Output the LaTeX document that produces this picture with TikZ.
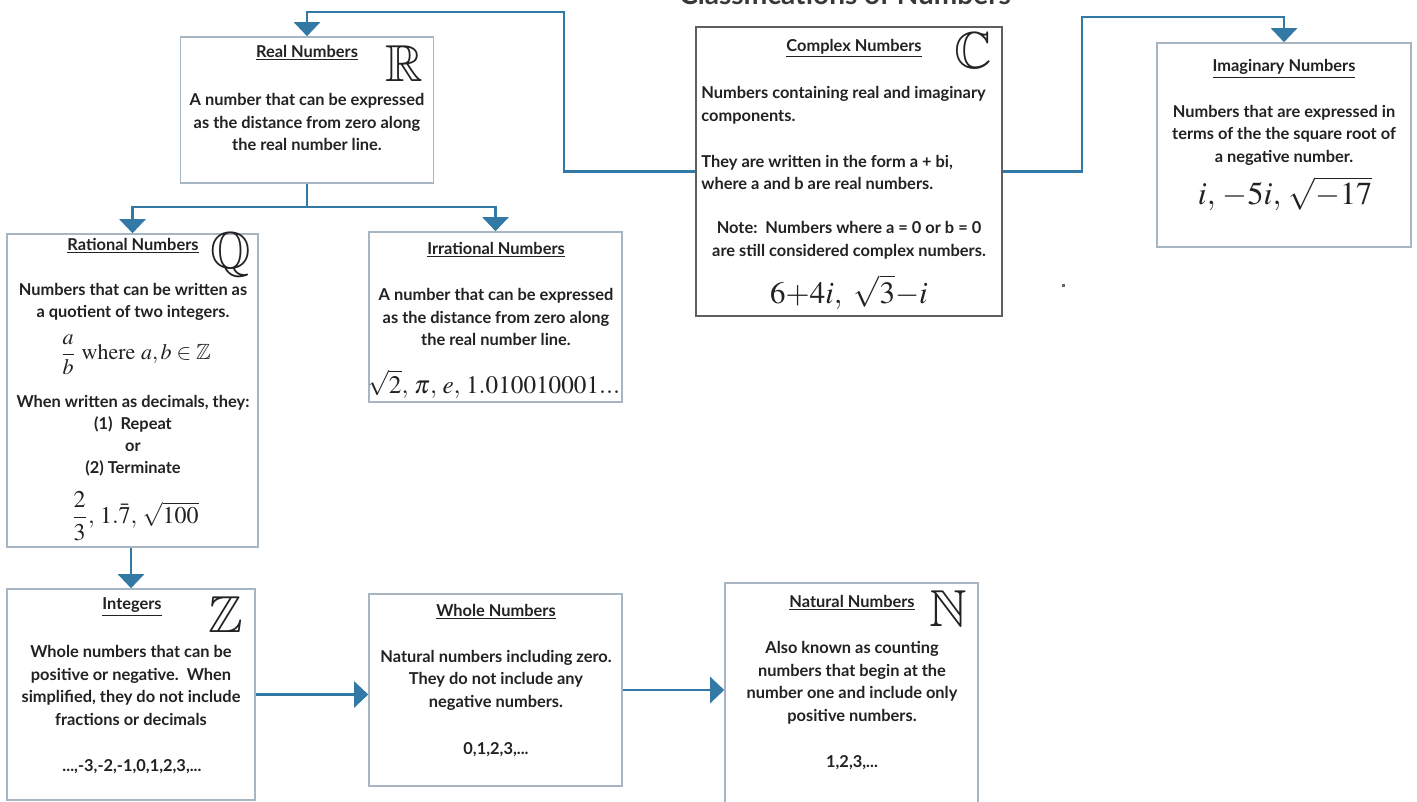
\documentclass[tikz,border=0pt]{standalone}
\usepackage{mathptmx}
\usepackage{amsmath}
\usepackage{amssymb}
\usepackage[no-math]{fontspec}
\setmainfont{Lato}
\usetikzlibrary{arrows.meta}
\definecolor{conn}{RGB}{50,121,165}
\definecolor{bxl}{RGB}{168,182,196}
\definecolor{bxd}{RGB}{95,95,95}
\definecolor{txt}{RGB}{34,34,34}
\tikzset{
  box/.style={draw=bxl, line width=0.8pt, fill=white, inner sep=0pt},
  tx/.style={font=\fontsize{8.2}{11.25}\selectfont\bfseries, text=txt, inner sep=0pt, align=center},
  txl/.style={tx, align=left, anchor=west},
  mt/.style={inner sep=0pt, text=txt, font=\fontsize{#1}{#1}\selectfont},
  bb/.style={inner sep=0pt, text=txt, font=\fontsize{26}{26}\selectfont},
  line/.style={draw=conn, line width=1.2pt},
  conn/.style={line, -{Triangle[width=13pt,length=7pt]}},
}
\begin{document}
\begin{tikzpicture}[x=0.5pt,y=-0.5pt]
\useasboundingbox (0,0) rectangle (1417,802);
\clip (0,0) rectangle (1417,802);
\fill[white] (0,0) rectangle (1417,802);

% title (cut off at the top)
\node[anchor=base, inner sep=0pt, text=txt!90!white, font=\fontsize{14}{16}\selectfont\bfseries] (title) at (845,5) {Classifications of Numbers};

% boxes
\node[box, minimum width=126.5pt, minimum height=73pt] (re) at (307,110) {};
\node[box, draw=bxd, minimum width=153pt, minimum height=144.5pt] (cx) at (849,171.5) {};
\node[box, minimum width=127pt, minimum height=102pt] (im) at (1284,145) {};
\node[box, minimum width=125.5pt, minimum height=156.5pt] (ra) at (132.5,390.5) {};
\node[box, minimum width=126.5pt, minimum height=85pt] (ir) at (495.5,317) {};
\node[box, minimum width=124pt, minimum height=105.5pt] (in) at (131,694.5) {};
\node[box, minimum width=126.5pt, minimum height=96pt] (wh) at (495.5,690) {};
\node[box, minimum width=126.5pt, minimum height=111.5pt] (na) at (851.5,694.5) {};

% Real numbers
\node[tx] (reh) at (307,53) {\underline{Real Numbers}};
\node[bb] (reb) at (404,64) {$\mathbb{R}$};
\node[tx] (ret) at (307,122) {A number that can be expressed\\as the distance from zero along\\the real number line.};

% Complex numbers
\node[tx] (cxh) at (854,48) {\underline{Complex Numbers}};
\node[bb] (cxb) at (973,51) {$\mathbb{C}$};
\node[txl] (cxt1) at (701,105.5) {Numbers containing real and imaginary\\components.};
\node[txl] (cxt2) at (701,172.5) {They are written in the form a + bi,\\where a and b are real numbers.};
\node[tx] (cxt3) at (849,240.5) {Note:\ \ Numbers where a = 0 or b = 0\\are still considered complex numbers.};
\node[mt=15.5] (cxm) at (849,292) {$6{+}4i,\ \sqrt{3}{-}i$};

% Imaginary numbers
\node[tx] (imh) at (1284,69) {\underline{Imaginary Numbers}};
\node[tx] (imt) at (1284,135) {Numbers that are expressed in\\terms of the the square root of\\a negative number.};
\node[mt=16] (imm) at (1285,194) {$i,\,-5i,\,\sqrt{-17}$};

% Rational numbers
\node[tx] (rah) at (133,246) {\underline{Rational Numbers}};
\node[bb] (rab) at (231,255) {$\mathbb{Q}$};
\node[tx] (rat) at (133,302) {Numbers that can be written as\\a quotient of two integers.};
\node[mt=11] (ram1) at (135.5,355) {$\dfrac{a}{b}\ \mathrm{where}\ a,b\in\mathbb{Z}$};
\node[tx, font=\fontsize{8.2}{11}\selectfont\bfseries] (rat2) at (133,436) {When written as decimals, they:\\(1)\ \ Repeat\\or\\(2) Terminate};
\node[mt=12] (ram2) at (135,516) {$\dfrac{2}{3},\,1.\bar{7},\,\sqrt{100}$};

% Irrational numbers
\node[tx] (irh) at (496,250) {\underline{Irrational Numbers}};
\node[tx] (irt) at (496,317) {A number that can be expressed\\as the distance from zero along\\the real number line.};
\node[mt=12.6] (irm) at (494,384) {$\sqrt{2},\,\pi,\,e,\,1.010010001...$};

% Integers
\node[tx] (inh) at (132,607) {\underline{Integers}};
\node[bb] (inb) at (226,615) {$\mathbb{Z}$};
\node[tx] (int) at (131,685.5) {Whole numbers that can be\\positive or negative.\ \ When\\simplified, they do not include\\fractions or decimals};
\node[tx] (inn) at (132,767) {...,-3,-2,-1,0,1,2,3,...};

% Whole numbers
\node[tx] (whh) at (496,612) {\underline{Whole Numbers}};
\node[tx] (wht) at (496,680) {Natural numbers including zero.\\They do not include any\\negative numbers.};
\node[tx] (whn) at (496,750) {0,1,2,3,...};

% Natural numbers
\node[tx] (nah) at (852,603) {\underline{Natural Numbers}};
\node[bb] (nab) at (948,609) {$\mathbb{N}$};
\node[tx] (nat) at (852,683) {Also known as counting\\numbers that begin at the\\number one and include only\\positive numbers.};
\node[tx] (nan) at (852,763) {1,2,3,...};

% stray dot
\fill[black!60] (1062,284) rectangle (1064.5,286.5);

% connectors
\coordinate (j1) at (564,12);
\coordinate (j2) at (1082,17);
\coordinate (j3) at (307,207);
\draw[conn] (cx.west) -| (j1) -| (re.north);
\draw[conn] (cx.east) -| (j2) -| (im.north);
\draw[line] (re.south) -- (j3);
\draw[conn] (j3) -| (ra.north);
\draw[conn] (j3) -| (ir.north);
\draw[conn] (in.north |- ra.south) -- (in.north);
\draw[conn] (in.east) -- (in.east -| wh.west);
\draw[conn] (wh.east) -- (wh.east -| na.west);
\end{tikzpicture}
\end{document}
